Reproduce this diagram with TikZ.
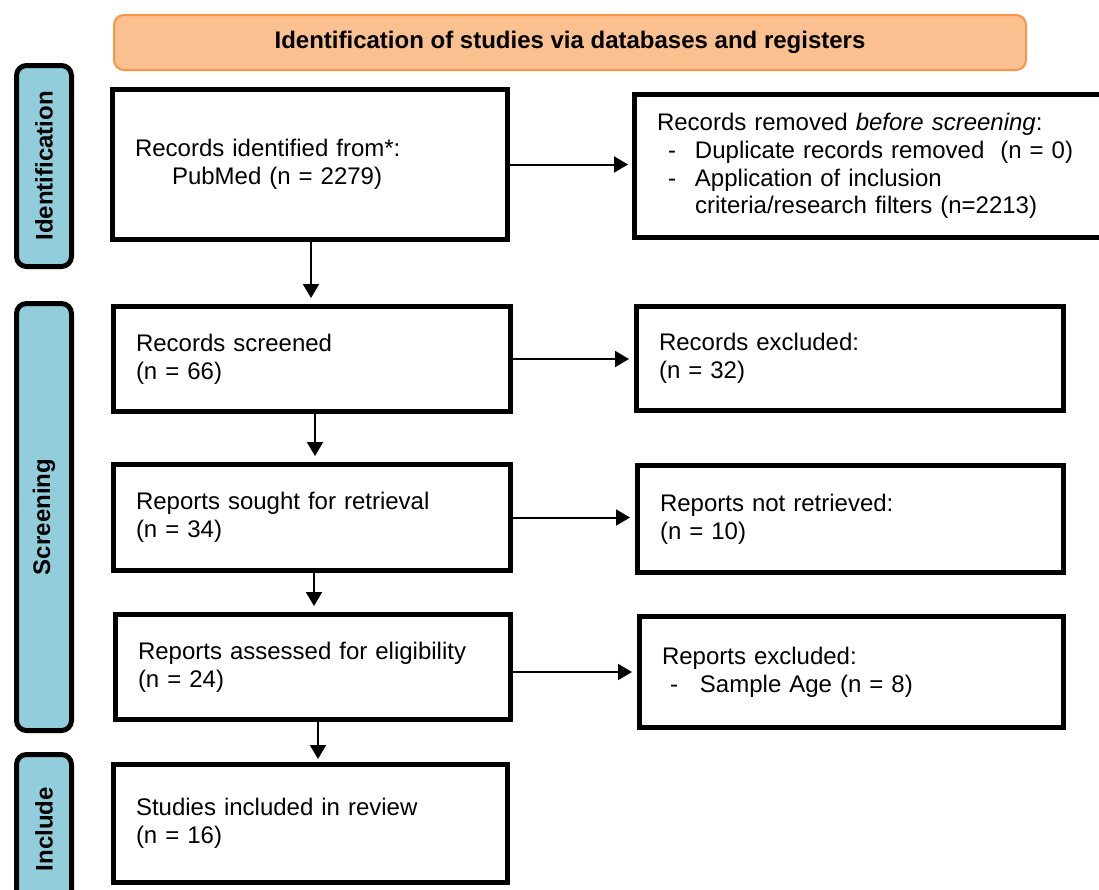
\documentclass[tikz,border=0pt]{standalone}
\usepackage{fontspec}
\setmainfont{Liberation Sans}
\usetikzlibrary{arrows.meta}
\definecolor{bannerfill}{HTML}{FAC090}
\definecolor{bannerdraw}{HTML}{F79646}
\definecolor{sidefill}{HTML}{92CDDC}
\newcommand{\dashitem}[2]{\hspace*{#1}\makebox[#2][l]{-}}
\begin{document}
\begin{tikzpicture}[x=1pt,y=-1pt,
  box/.style={draw, line width=5pt, rectangle, inner sep=0pt, inner xsep=22.5pt,
    align=left, font=\fontsize{24}{27.6}\selectfont},
  side/.style={draw, line width=5pt, fill=sidefill, rounded corners=10pt, rotate=90,
    inner sep=0pt, font=\bfseries\fontsize{24}{27.6}\selectfont},
  banner/.style={draw=bannerdraw, fill=bannerfill, line width=2pt, rounded corners=10pt,
    inner sep=0pt, font=\bfseries\fontsize{24}{27.6}\selectfont},
  arr/.style={line width=2pt, -{Triangle[width=16pt,length=14pt]}}]
\useasboundingbox (0,0) rectangle (1099,889);
\fill[white] (0,0) rectangle (1099,889);
\clip (0,0) rectangle (1099,889);

% banner
\node[banner, minimum width=912pt, minimum height=55pt] (ban) at (570,42.5)
  {Identification of studies via databases and registers};

% side labels
\node[side, minimum width=201pt, minimum height=55pt] (sid) at (44,166) {Identification};
\node[side, minimum width=427pt, minimum height=55pt] (ssc) at (44,517) {Screening};
\node[side, minimum width=149pt, minimum height=55pt] (sin) at (44,829) {Include};

% left column
\node[box, minimum width=395pt, minimum height=150pt, text width=350pt] (id) at (310,164.5)
  {Records identified from*:\\\hspace*{37pt}PubMed (n = 2279)};
\node[box, minimum width=397pt, minimum height=105pt, text width=352pt] (scr) at (312,359)
  {Records screened\\(n = 66)};
\node[box, minimum width=397pt, minimum height=106pt, text width=352pt] (sou) at (312,517.5)
  {Reports sought for retrieval\\(n = 34)};
\node[box, minimum width=395pt, minimum height=105pt, text width=350pt] (ass) at (313,667)
  {Reports assessed for eligibility\\(n = 24)};
\node[box, minimum width=394pt, minimum height=118pt, text width=349pt] (inc) at (310.5,823.5)
  {Studies included in review\\(n = 16)};

% right column
\node[box, minimum width=473pt, minimum height=143pt, text width=428pt] (rem) at (871,166)
  {Records removed \textit{before screening}:\\
   \dashitem{11pt}{27pt}Duplicate records removed\ \ (n = 0)\\
   \dashitem{11pt}{27pt}Application of inclusion\\
   \hspace*{38pt}criteria/research filters (n=2213)};
\node[box, minimum width=427pt, minimum height=104pt, text width=382pt] (rexcl) at (850,358.5)
  {Records excluded:\\(n = 32)};
\node[box, minimum width=426pt, minimum height=107pt, text width=381pt] (nret) at (850.5,519)
  {Reports not retrieved:\\(n = 10)};
\node[box, minimum width=424pt, minimum height=111pt, text width=379pt] (rexc) at (851.5,672)
  {Reports excluded:\\\dashitem{8pt}{30pt}Sample Age (n = 8)};

% vertical arrows
\draw[arr, shorten >=6pt] ([xshift=1pt]id.south) -- ([xshift=1pt]id.south |- scr.north);
\draw[arr, shorten >=6pt] ([xshift=3pt]scr.south) -- ([xshift=3pt]scr.south |- sou.north);
\draw[arr, shorten >=6pt] ([xshift=2pt]sou.south) -- ([xshift=2pt]sou.south |- ass.north);
\draw[arr, shorten >=3pt] ([xshift=5pt]ass.south) -- ([xshift=5pt]ass.south |- inc.north);

% horizontal arrows
\draw[arr, shorten >=4pt] (id.east) -- (id.east -| rem.west);
\draw[arr, shorten >=5pt] (scr.east) -- (scr.east -| rexcl.west);
\draw[arr, shorten >=5pt] (sou.east) -- (sou.east -| nret.west);
\draw[arr, shorten >=5pt] (rexc.west -| ass.east) -- (rexc.west);
\end{tikzpicture}
\end{document}
